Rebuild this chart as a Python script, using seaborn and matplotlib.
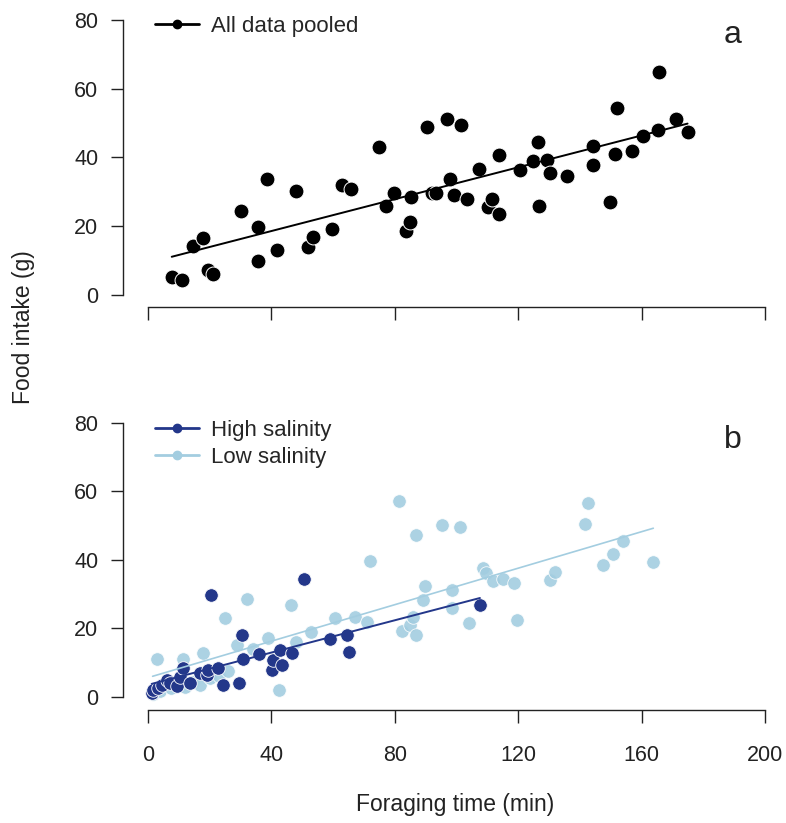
import numpy as np
import pandas as pd
import seaborn as sns
import matplotlib.pyplot as plt
from matplotlib.lines import Line2D

sns.set_style("ticks")
plt.rcParams["font.family"] = ["Liberation Sans", "DejaVu Sans"]

# === Panel a: all data pooled ===
pooled_time = [7.7, 11.1, 14.7, 17.9, 19.3, 21.0, 30.1, 35.8, 35.8, 38.5,
               41.9, 48.0, 52.0, 53.4, 59.5, 62.9, 65.8, 75.0, 77.1, 79.7,
               83.5, 84.9, 85.3, 90.5, 92.0, 93.4, 96.8, 97.9, 99.3, 101.4,
               103.5, 107.3, 110.3, 111.6, 113.8, 113.8, 120.6, 124.7, 126.3, 126.7,
               129.4, 130.3, 135.7, 144.3, 144.3, 149.8, 151.4, 151.9, 156.8, 160.6,
               165.4, 165.5, 171.0, 174.9]
pooled_food = [5.1, 4.3, 14.3, 16.6, 7.2, 6.0, 24.3, 9.9, 19.9, 33.6,
               13.2, 30.2, 14.1, 17.0, 19.2, 32.1, 30.7, 43.0, 25.8, 29.6,
               18.7, 21.1, 28.5, 48.9, 29.6, 29.6, 51.2, 33.6, 29.2, 49.4,
               28.0, 36.7, 25.7, 28.0, 40.6, 23.6, 36.3, 38.9, 44.6, 25.8,
               39.2, 35.6, 34.6, 43.4, 37.9, 27.0, 41.1, 54.5, 41.8, 46.2,
               48.0, 65.0, 51.3, 47.3]

# === Panel b: split by salinity ===
high_time = [1.2, 1.5, 3.3, 4.5, 6.1, 7.0, 9.3, 10.4, 11.4, 13.6,
             16.9, 19.0, 19.5, 20.4, 22.8, 24.2, 29.6, 30.4, 30.9, 36.1,
             40.1, 40.6, 42.8, 43.6, 46.6, 50.7, 59.0, 64.4, 65.2, 107.6]
high_food = [1.2, 2.0, 2.6, 3.5, 5.1, 4.0, 3.1, 5.8, 8.5, 4.1,
             7.0, 6.5, 8.0, 29.7, 8.5, 3.4, 4.1, 18.2, 11.1, 12.5,
             8.0, 10.7, 13.8, 9.4, 12.9, 34.5, 17.0, 18.0, 13.2, 27.0]

low_time = [1.5, 4.0, 7.5, 12.0, 14.5, 17.0,
            20.0, 23.0, 26.0, 3.0, 11.2, 17.9, 25.0, 28.8, 32.0, 34.0,
            39.0, 42.6, 46.3, 48.0, 53.0, 60.6, 67.1, 70.9, 72.0, 81.4,
            82.2, 84.9, 86.0, 86.8, 86.9, 89.0, 89.8, 95.2, 98.4, 98.4,
            101.3, 104.2, 108.7, 109.5, 111.9, 115.2, 118.6, 119.5, 130.3, 131.9,
            141.7, 142.7, 147.6, 150.6, 154.1, 163.8]
low_food = [1.0, 1.8, 2.5, 3.0, 4.5, 3.5,
            5.5, 6.0, 7.5, 11.2, 11.2, 12.7, 23.2, 15.3, 28.6, 14.0,
            17.2, 1.9, 27.0, 16.0, 19.0, 23.1, 23.5, 21.9, 39.6, 57.1,
            19.2, 21.1, 23.5, 47.4, 18.2, 28.2, 32.5, 50.1, 31.3, 26.0,
            49.5, 21.6, 37.7, 36.3, 33.8, 34.5, 33.4, 22.6, 34.2, 36.4,
            50.6, 56.5, 38.4, 41.8, 45.6, 39.4]

x_ticks = [0, 40, 80, 120, 160, 200]
y_ticks = [0, 20, 40, 60, 80]

navy = "#23378a"
light = "#a3cde0"
ink = "#222222"

pooled = pd.DataFrame({"time": pooled_time, "food": pooled_food})
high = pd.DataFrame({"time": high_time, "food": high_food})
low = pd.DataFrame({"time": low_time, "food": low_food})

W, H = 786, 823
fig = plt.figure(figsize=(W / 100, H / 100), dpi=100)
ax_a = fig.add_axes([123.3 / W, 1 - 307.4 / H, 660.2 / W, 301.2 / H])
ax_b = fig.add_axes([123.3 / W, 1 - 710.0 / H, 660.2 / W, 300.7 / H])

# --- panel a ---
sns.scatterplot(data=pooled, x="time", y="food", ax=ax_a, color="black",
                s=115, edgecolor="white", linewidth=0.7, zorder=3)
sns.regplot(data=pooled, x="time", y="food", ax=ax_a, scatter=False, ci=None,
            truncate=True, line_kws={"color": "black", "lw": 1.4, "zorder": 4})

# --- panel b ---
sns.scatterplot(data=low, x="time", y="food", ax=ax_b, color=light,
                s=95, edgecolor="white", linewidth=0.6, alpha=0.9, zorder=2)
sns.scatterplot(data=high, x="time", y="food", ax=ax_b, color=navy,
                s=95, edgecolor="white", linewidth=0.6, zorder=3)
sns.regplot(data=high, x="time", y="food", ax=ax_b, scatter=False, ci=None,
            truncate=True, line_kws={"color": navy, "lw": 1.4, "zorder": 4})
sns.regplot(data=low, x="time", y="food", ax=ax_b, scatter=False, ci=None,
            truncate=True, line_kws={"color": light, "lw": 1.2, "zorder": 4})

for ax, ylo in [(ax_a, -3.6), (ax_b, -3.8)]:
    ax.set_xlim(-8, 206)
    ax.set_ylim(ylo, 84)
    ax.set_xticks(x_ticks)
    ax.set_yticks(y_ticks)
    ax.set_xlabel("")
    ax.set_ylabel("")
    for side in ["top", "right"]:
        ax.spines[side].set_visible(False)
    ax.spines["left"].set_bounds(0, 80)
    ax.spines["bottom"].set_bounds(0, 200)
    for side in ["left", "bottom"]:
        ax.spines[side].set_linewidth(1.0)
        ax.spines[side].set_color(ink)
    ax.tick_params(direction="out", length=9, width=1.0, colors=ink,
                   labelsize=15.5, labelcolor=ink)
    ax.tick_params(axis="y", pad=9)
    ax.tick_params(axis="x", pad=16)

ax_a.set_xticklabels([])

# --- legends ---
leg_a = [Line2D([0], [0], color="black", lw=2, marker="o", markersize=6,
                label="All data pooled")]
ax_a.legend(handles=leg_a, loc="upper left", bbox_to_anchor=(155 / W, 1 - 16 / H),
            bbox_transform=fig.transFigure, frameon=False, fontsize=16,
            handlelength=2.0, handletextpad=0.5, borderpad=0, borderaxespad=0)
leg_b = [Line2D([0], [0], color=navy, lw=2, marker="o", markersize=6,
                label="High salinity"),
         Line2D([0], [0], color=light, lw=2, marker="o", markersize=6,
                label="Low salinity")]
ax_b.legend(handles=leg_b, loc="upper left", bbox_to_anchor=(155 / W, 1 - 420 / H),
            bbox_transform=fig.transFigure, frameon=False, fontsize=16,
            handlelength=2.0, handletextpad=0.5, borderpad=0, borderaxespad=0,
            labelspacing=0.25)

# --- panel letters and axis titles ---
fig.text(733 / W, 1 - 35 / H, "a", fontsize=23, ha="center", va="center", color=ink)
fig.text(733 / W, 1 - 440 / H, "b", fontsize=23, ha="center", va="center", color=ink)
fig.text(455 / W, 1 - 805 / H, "Foraging time (min)", fontsize=16.5,
         ha="center", va="center", color=ink)
fig.text(24 / W, 1 - 327 / H, "Food intake (g)", fontsize=16.5, rotation=90,
         ha="center", va="center", color=ink)

fig.savefig("out.png", dpi=100)
